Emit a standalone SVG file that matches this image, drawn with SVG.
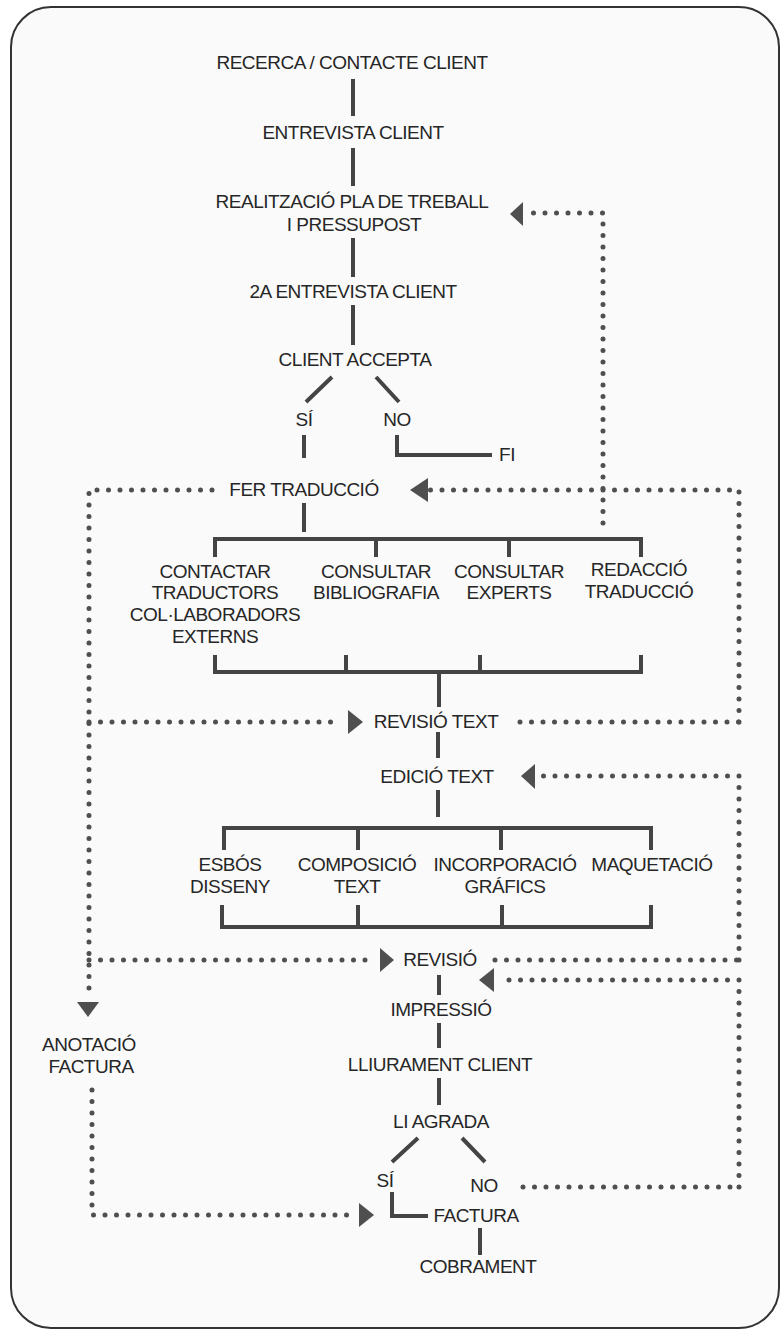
<svg xmlns="http://www.w3.org/2000/svg" width="781" height="1330" viewBox="0 0 781 1330">
<style>
text{font-family:"Liberation Sans",Arial,sans-serif;font-size:19px;letter-spacing:-0.5px;fill:#262626;text-anchor:middle}
.ln{stroke:#444;stroke-width:4;fill:none;stroke-linecap:butt}
.dt{stroke:#4f4f4f;stroke-width:5;fill:none;stroke-linecap:round;stroke-dasharray:0 11.5}
.ah{fill:#4f4f4f}
</style>
<rect x="0" y="0" width="781" height="1330" fill="#ffffff"/>
<rect id="frame" x="11" y="7" width="768" height="1321" rx="40" ry="40" fill="#fafafa" stroke="#333" stroke-width="2"/>
<g id="connectors">
<path class="ln" d="M353 79V116M353 148V186M353 238V277M353 305V345M332 377L306 402M376 377L399 402M304 435V458M397 435V455H492M304 503V532"/>
<path class="ln" d="M215 557V539H641V557M376 539V557M509 539V557"/>
<path class="ln" d="M215 655V672H641V655M346 655V672M480 655V672M439 672V707"/>
<path class="ln" d="M438 732V758M438 790V817M224 850V828H651V850M358 828V850M501 828V850"/>
<path class="ln" d="M222 905V927H651V905M358 905V927M502 905V927"/>
<path class="ln" d="M439 975V995M439 1023V1048M439 1078V1105M418 1138L392 1162M462 1138L485 1162M392 1192V1216H428M480 1228V1255"/>
<path class="dt" d="M603 523V213H530"/>
<path class="dt" d="M212 490H89V998"/>
<path class="dt" d="M739 722V490H430"/>
<path class="dt" d="M89 722H340"/>
<path class="dt" d="M520 722H739"/>
<path class="dt" d="M739 960V776H540"/>
<path class="dt" d="M89 960H376"/>
<path class="dt" d="M495 960H739"/>
<path class="dt" d="M739 1187V980H500"/>
<path class="dt" d="M523 1187H739"/>
<path class="dt" d="M92 1090V1215H355"/>
<polygon class="ah" points="510,214 523,202 523,226"/>
<polygon class="ah" points="410,490 428,478 428,502"/>
<polygon class="ah" points="363,722 348,710 348,734"/>
<polygon class="ah" points="521,776 535,764 535,789"/>
<polygon class="ah" points="394,960 380,948 380,972"/>
<polygon class="ah" points="479,980 494,968 494,992"/>
<polygon class="ah" points="88,1017 77,1002 99,1002"/>
<polygon class="ah" points="374,1215 359,1203 359,1227"/>
</g>
<g id="n1"><text x="352" y="69">RECERCA / CONTACTE CLIENT</text></g>
<g id="n2"><text x="353" y="139">ENTREVISTA CLIENT</text></g>
<g id="n3"><text x="352" y="208">REALITZACIÓ PLA DE TREBALL</text><text x="354" y="231">I PRESSUPOST</text></g>
<g id="n4"><text x="353" y="298">2A ENTREVISTA CLIENT</text></g>
<g id="n5"><text x="355" y="366">CLIENT ACCEPTA</text></g>
<g id="n6"><text x="304" y="426">SÍ</text></g>
<g id="n7"><text x="397" y="426">NO</text></g>
<g id="n8"><text x="507" y="461">FI</text></g>
<g id="n9"><text x="304" y="496">FER TRADUCCIÓ</text></g>
<g id="n10"><text x="215" y="578">CONTACTAR</text><text x="215" y="599">TRADUCTORS</text><text x="215" y="621">COL·LABORADORS</text><text x="215" y="643">EXTERNS</text></g>
<g id="n11"><text x="376" y="578">CONSULTAR</text><text x="376" y="599">BIBLIOGRAFIA</text></g>
<g id="n12"><text x="509" y="578">CONSULTAR</text><text x="509" y="599">EXPERTS</text></g>
<g id="n13"><text x="639" y="576">REDACCIÓ</text><text x="639" y="598">TRADUCCIÓ</text></g>
<g id="n14"><text x="436" y="728">REVISIÓ TEXT</text></g>
<g id="n15"><text x="437" y="783">EDICIÓ TEXT</text></g>
<g id="n16"><text x="230" y="871">ESBÓS</text><text x="230" y="893">DISSENY</text></g>
<g id="n17"><text x="357" y="871">COMPOSICIÓ</text><text x="357" y="893">TEXT</text></g>
<g id="n18"><text x="505" y="871">INCORPORACIÓ</text><text x="505" y="893">GRÁFICS</text></g>
<g id="n19"><text x="652" y="871">MAQUETACIÓ</text></g>
<g id="n20"><text x="440" y="966">REVISIÓ</text></g>
<g id="n21"><text x="441" y="1016">IMPRESSIÓ</text></g>
<g id="n22"><text x="440" y="1071">LLIURAMENT CLIENT</text></g>
<g id="n23"><text x="441" y="1128">LI AGRADA</text></g>
<g id="n24"><text x="385" y="1187">SÍ</text></g>
<g id="n25"><text x="484" y="1192">NO</text></g>
<g id="n26"><text x="476" y="1222">FACTURA</text></g>
<g id="n27"><text x="478" y="1273">COBRAMENT</text></g>
<g id="n28"><text x="89" y="1051">ANOTACIÓ</text><text x="91" y="1073">FACTURA</text></g>
</svg>
